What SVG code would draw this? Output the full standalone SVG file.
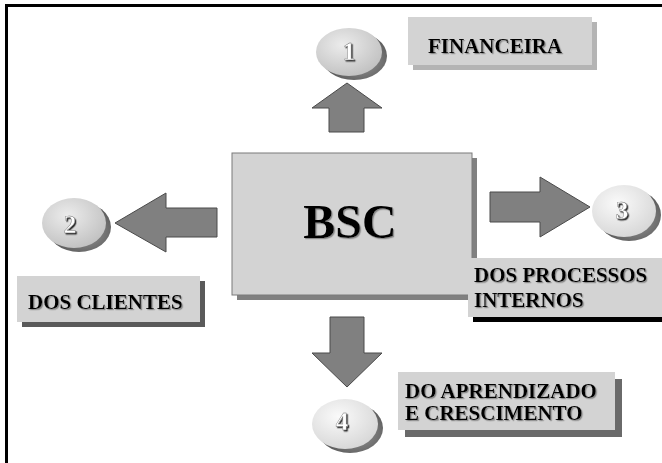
<svg xmlns="http://www.w3.org/2000/svg" width="662" height="463" viewBox="0 0 662 463">
<style>
.lbl{font-family:"Liberation Serif","Times New Roman",serif;font-weight:bold;font-size:21px;fill:#000;filter:url(#ts)}
.num{font-family:"Liberation Serif","Times New Roman",serif;font-weight:bold;font-size:25px;text-anchor:middle;fill:#ffffff;stroke:#6a6a6a;stroke-width:0.4;filter:url(#ns)}
.box{fill:#d3d3d3}
.arrow{fill:#808080;stroke:#4a4a4a;stroke-width:1}
</style>
<defs>
<filter id="ts" x="-5%" y="-20%" width="110%" height="140%">
<feDropShadow dx="1.2" dy="1.2" stdDeviation="0.3" flood-color="#8a8a8a" flood-opacity="1"/>
</filter>
<filter id="ns" x="-30%" y="-30%" width="160%" height="160%">
<feDropShadow dx="1.3" dy="1.3" stdDeviation="0.3" flood-color="#2a2a2a" flood-opacity="1"/>
</filter>
<radialGradient id="eg" cx="0.4" cy="0.35" r="0.7">
<stop offset="0" stop-color="#ececec"/>
<stop offset="1" stop-color="#c0c0c0"/>
</radialGradient>
<radialGradient id="eg2" cx="0.4" cy="0.35" r="0.7">
<stop offset="0" stop-color="#fafafa"/>
<stop offset="1" stop-color="#d6d6d6"/>
</radialGradient>
<radialGradient id="sg" cx="0.6" cy="0.6" r="0.6">
<stop offset="0" stop-color="#9a9a9a"/>
<stop offset="1" stop-color="#505050"/>
</radialGradient>
</defs>
<rect x="0" y="0" width="662" height="463" fill="#ffffff"/>
<rect x="5" y="4" width="657" height="3" fill="#000"/>
<rect x="5" y="4" width="3" height="459" fill="#000"/>

<g id="connectors">
<polygon class="arrow" points="329,132 329,108 312,108 347,83 382,108 364,108 364,132"/>
<polygon class="arrow" points="217,208 166,208 166,193 115,223 166,252 166,237 217,237"/>
<polygon class="arrow" points="490,192 540,192 540,177 590,207 540,237 540,222 490,222"/>
<polygon class="arrow" points="330,317 364,317 364,353 382,353 347,387 312,353 330,353"/>
</g>

<g id="bsc">
<rect x="237" y="158" width="240" height="142" fill="#808080"/>
<rect x="232" y="153" width="240" height="142" class="box" stroke="#7a7a7a" stroke-width="1"/>
<text x="350" y="238" text-anchor="middle" font-family="Liberation Serif, Times New Roman, serif" font-weight="bold" font-size="48" fill="#000" filter="url(#ts)">BSC</text>
</g>

<g id="n1">
<ellipse cx="354" cy="56" rx="33" ry="24" fill="url(#sg)"/>
<ellipse cx="349" cy="52" rx="33" ry="24" fill="url(#eg)"/>
<text class="num" x="349" y="60">1</text>
</g>
<g id="financeira">
<rect x="413" y="22" width="184" height="48" fill="#b4b4b4"/>
<rect x="408" y="17" width="184" height="48" class="box"/>
<text class="lbl" x="428" y="53">FINANCEIRA</text>
</g>

<g id="n2">
<ellipse cx="79" cy="227" rx="32" ry="25" fill="url(#sg)"/>
<ellipse cx="74" cy="223" rx="32" ry="25" fill="url(#eg)"/>
<text class="num" x="70" y="233">2</text>
</g>
<g id="clientes">
<rect x="22" y="281" width="183" height="46" fill="#5a5a5a"/>
<rect x="17" y="276" width="183" height="46" class="box"/>
<text class="lbl" x="28" y="309">DOS CLIENTES</text>
</g>

<g id="n3">
<ellipse cx="629" cy="215" rx="32" ry="26" fill="url(#sg)"/>
<ellipse cx="624" cy="211" rx="32" ry="26" fill="url(#eg2)"/>
<text class="num" x="622" y="219">3</text>
</g>
<g id="processos">
<rect x="473" y="317" width="189" height="5" fill="#000"/>
<rect x="468" y="258" width="194" height="59" class="box"/>
<text class="lbl" x="474" y="282">DOS PROCESSOS</text>
<text class="lbl" x="474" y="307">INTERNOS</text>
</g>

<g id="n4">
<ellipse cx="350" cy="428" rx="33" ry="25" fill="url(#sg)"/>
<ellipse cx="345" cy="424" rx="33" ry="25" fill="url(#eg2)"/>
<text class="num" x="342" y="430">4</text>
</g>
<g id="aprendizado">
<rect x="405" y="379" width="217" height="58" fill="#6a6a6a"/>
<rect x="398" y="372" width="217" height="58" class="box"/>
<text class="lbl" x="405" y="398">DO APRENDIZADO</text>
<text class="lbl" x="405" y="420">E CRESCIMENTO</text>
</g>
</svg>
